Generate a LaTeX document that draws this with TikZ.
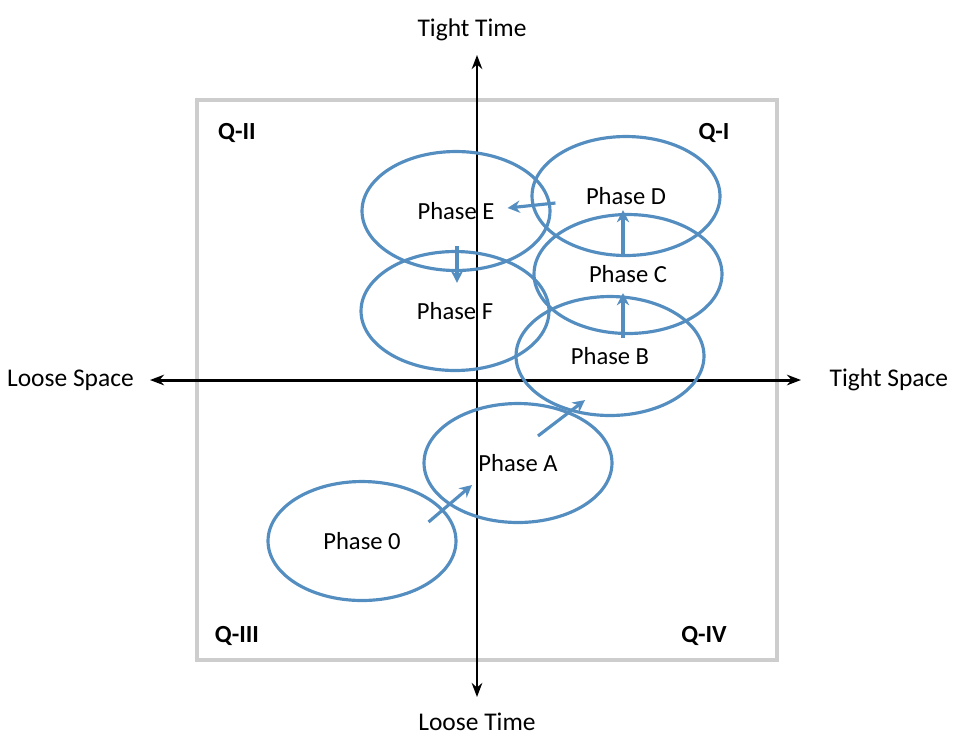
\documentclass[tikz,border=0pt]{standalone}
\usepackage{fontspec}
\setmainfont{Carlito}
\usepackage{tikz}
\usetikzlibrary{shapes.geometric,positioning,arrows.meta}
\definecolor{phaseblue}{RGB}{84,141,192}
\definecolor{boxgray}{RGB}{205,205,205}
\tikzset{
	phase/.style={ellipse, draw=phaseblue, line width=1.8pt, minimum width=3.76cm, minimum height=2.38cm, inner sep=0pt, font=\fontsize{14}{16}\selectfont},
	flow/.style={-{Stealth[length=7pt,width=7pt]}, line width=1.8pt, phaseblue},
	axis/.style={{Stealth[length=8pt,width=6pt]}-{Stealth[length=8pt,width=6pt]}, line width=1.7pt, black},
	axlabel/.style={font=\fontsize{14.5}{16}\selectfont},
	qlabel/.style={font=\fontsize{14}{16}\selectfont\bfseries}
}
\begin{document}
\begin{tikzpicture}[x=0.02cm, y=-0.02cm]
	\useasboundingbox (0,0) rectangle (974,752);
	% frame and axes
	\draw [boxgray, line width=2.4pt] (197,100) rectangle (777,660);
	\coordinate (top) at (477,55);
	\coordinate (bottom) at (477,697);
	\coordinate (left) at (150,380);
	\coordinate (right) at (801,380);
	\draw [axis] (bottom) -- (top);
	\draw [axis] (left) -- (right);

	\node [axlabel, above=0.16cm of top, xshift=-0.1cm] {Tight Time};
	\node [axlabel, below=0.2cm of bottom] {Loose Time};
	\node [axlabel, left=0.2cm of left] {Loose Space};
	\node [axlabel, right=0.45cm of right] {Tight Space};

	\node [qlabel] (q2) at (237,133) {Q-II};
	\node [qlabel] (q1) at (714,133) {Q-I};
	\node [qlabel] (q3) at (237,636) {Q-III};
	\node [qlabel] (q4) at (704,636) {Q-IV};

	% phases
	\node [phase] (p0) at (362,541) {Phase 0};
	\node [phase] (pA) at (518,463) {Phase A};
	\node [phase] (pB) at (610,356) {Phase B};
	\node [phase] (pC) at (628,274) {Phase C};
	\node [phase] (pD) at (626,196) {Phase D};
	\node [phase] (pE) at (456,211) {Phase E};
	\node [phase] (pF) at (455,311) {Phase F};

	\draw [flow] ([shift={(-29,-19)}] p0.east) -- ([shift={(-46,22)}] pA.center);
	\draw [flow] ([shift={(20,34)}] pA.north) -- ([shift={(-25,-17)}] pB.south);
	\draw [flow] ([shift={(13,43)}] pB.north) -- ([shift={(-5,19)}] pC.center);
	\draw [flow] ([shift={(-5,42)}] pC.north) -- ([shift={(-3,14)}] pD.center);
	\draw [flow] ([shift={(25,7)}] pD.west) -- ([shift={(-44,-3)}] pE.east);
	\draw [flow] ([shift={(1,-26)}] pE.south) -- ([shift={(2,33)}] pF.north);
\end{tikzpicture}
\end{document}
